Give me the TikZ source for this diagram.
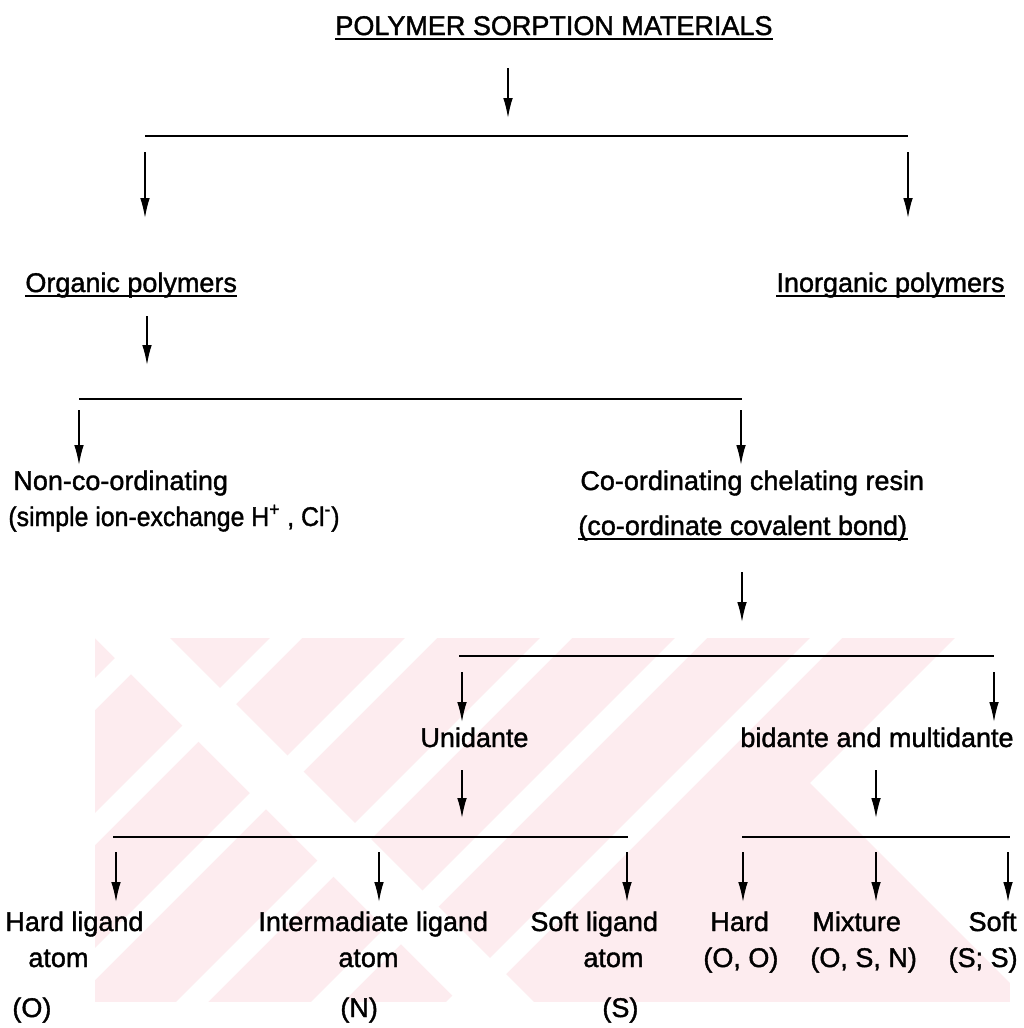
\documentclass[tikz,border=0pt]{standalone}
\usepackage{fontspec}
\setmainfont{Liberation Sans}[FakeBold=1.4]
\usetikzlibrary{arrows.meta}

\definecolor{wmpink}{RGB}{253,236,239}

\tikzset{
  lbl/.style={inner sep=0pt, anchor=base west, font=\fontsize{13.5}{16}\selectfont},
  lblr/.style={lbl, anchor=base east},
  arr/.style={line width=0.75pt, -{Latex[length=10pt,width=4.8pt]}},
  bar/.style={line width=0.85pt},
  uline/.style={line width=0.85pt},
  wmgap/.style={fill=white, draw=none},
}

\begin{document}
\begin{tikzpicture}[x=0.5pt,y=-0.5pt]
\useasboundingbox (0,0) rectangle (1023,1028);
% watermark
\begin{scope}
  \clip (95,638) rectangle (1010,1002);
  \fill[wmpink] (95,638) rectangle (1010,1002);
  \foreach \x in {135,270,405,540,675,810}
    \fill[wmgap] (\x,638) -- (\x+32,638) -- (\x+32-364,1002) -- (\x-364,1002) -- cycle;
  \fill[wmgap] (95,638) -- (170,638) -- (534,1002) -- (459,1002) -- cycle;
  \fill[wmgap] (955,638) -- (1010,638) -- (1010,983) -- (810,783) -- cycle;
\end{scope}
%
\node[lbl] (title) at (335,35) {POLYMER SORPTION MATERIALS};
\node[lbl] (organic) at (25,292) {Organic polymers};
\node[lblr] (inorganic) at (1005,292) {Inorganic polymers};
\node[lbl] (noncoord) at (13,490) {Non-co-ordinating};
\node[lbl] (simple) at (8,526) {\scalebox{0.92}[1]{(simple ion-exchange H\textsuperscript{+} , Cl\textsuperscript{-})}};
\node[lbl] (coord) at (580,490) {Co-ordinating chelating resin};
\node[lbl] (covalent) at (578,535) {(co-ordinate covalent bond)};
\node[lbl] (unidante) at (420,747) {Unidante};
\node[lbl] (multidante) at (740,747) {bidante and multidante};
%
\node[lbl] (hardlig) at (5,931) {Hard ligand};
\node[lbl] (hardatom) at (28,967) {atom};
\node[lbl] (hardO) at (12,1017) {(O)};
\node[lbl] (interlig) at (258,931) {Intermadiate ligand};
\node[lbl] (interatom) at (338,967) {atom};
\node[lbl] (interN) at (340,1017) {(N)};
\node[lbl] (softlig) at (530,931) {Soft ligand};
\node[lbl] (softatom) at (583,967) {atom};
\node[lbl] (softS) at (602,1017) {(S)};
\node[lbl] (hard) at (710,931) {Hard};
\node[lbl] (hardOO) at (703,967) {(O, O)};
\node[lbl] (mixture) at (812,931) {Mixture};
\node[lbl] (mixOSN) at (810,967) {(O, S, N)};
\node[lblr] (soft) at (1017,931) {Soft};
\node[lblr] (softSS) at (1018,967) {(S; S)};
%
\foreach \n in {title,organic,inorganic,covalent}
  \draw[uline] ([yshift=-2pt]\n.base west) -- ([yshift=-2pt]\n.base east);
%
\foreach \n/\xa/\xb/\y in {b1/145/908/136, b2/79/742/399, b3/459/994/656,
    b4/113/628/837, b5/742/1010/837} {
  \coordinate (\n w) at (\xa,\y);
  \coordinate (\n e) at (\xb,\y);
  \draw[bar] (\n w) -- (\n e);
}
%
\foreach \n/\x/\ya/\yb in {a0/508/68/118, a1/145/152/218, a2/908/152/218,
    a3/147/316/365, a4/79/410/465, a5/741/410/465, a6/742/572/622,
    a7/462/672/722, a8/994/672/722, a9/462/770/818, a10/876/770/818,
    a11/116/852/902, a12/379/852/902, a13/627/852/902,
    a14/743/852/902, a15/876/852/902, a16/1008/852/902} {
  \coordinate (\n s) at (\x,\ya);
  \coordinate (\n e) at (\x,\yb);
  \draw[arr] (\n s) -- (\n e);
}
%%%%%%%%%%%%%%%%%%%%%%%%%%%%%%%
\end{tikzpicture}
\end{document}
